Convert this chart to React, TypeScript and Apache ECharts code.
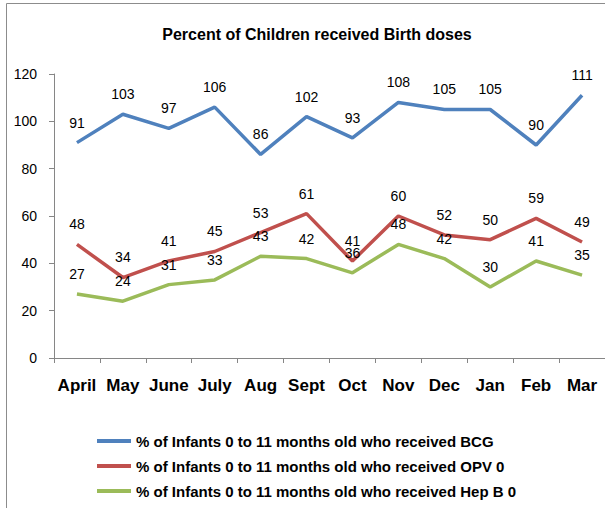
import React, { useEffect, useRef } from "react";
import * as echarts from "echarts";

const categories = ["April", "May", "June", "July", "Aug", "Sept", "Oct", "Nov", "Dec", "Jan", "Feb", "Mar"];
const bcg = [91, 103, 97, 106, 86, 102, 93, 108, 105, 105, 90, 111];
const opv = [48, 34, 41, 45, 53, 61, 41, 60, 52, 50, 59, 49];
const hepb = [27, 24, 31, 33, 43, 42, 36, 48, 42, 30, 41, 35];
const seriesNames = [
  "% of Infants 0 to 11 months old who received BCG",
  "% of Infants 0 to 11 months old who received OPV 0",
  "% of Infants 0 to 11 months old who received Hep B 0",
];
const colors = ["#4F81BD", "#C0504D", "#9BBB59"];
const titleText = "Percent of Children received Birth doses";

const FONT = "'Liberation Sans', Arial, sans-serif";

export default function App() {
  const ref = useRef<HTMLDivElement>(null);
  useEffect(() => {
    if (!ref.current) return;
    const chart = echarts.init(ref.current, undefined, { renderer: "svg" });
    const mk = (name: string, data: number[], color: string) => ({
      name,
      type: "line",
      data,
      color,
      symbol: "circle",
      symbolSize: 0.1,
      showSymbol: true,
      lineStyle: { width: 3.5, color },
      itemStyle: { color },
      label: {
        show: true,
        position: "top",
        distance: 13,
        color: "#000",
        fontSize: 14,
        fontFamily: FONT,
      },
    });
    chart.setOption({
      animation: false,
      title: {
        text: titleText,
        left: 312,
        top: 21,
        textAlign: "center",
        textStyle: { fontFamily: FONT, fontWeight: "bold", fontSize: 16, color: "#000" },
      },
      graphic: [
        {
          type: "rect",
          shape: { x: 6.5, y: 3.5, width: 620, height: 530 },
          style: { fill: "none", stroke: "#8c8c8c", lineWidth: 1 },
          silent: true,
        },
      ],
      legend: {
        orient: "vertical",
        left: 97,
        top: 432,
        padding: 0,
        icon: "rect",
        itemWidth: 34,
        itemHeight: 4,
        itemGap: 7,
        textStyle: { fontFamily: FONT, fontWeight: "bold", fontSize: 15, color: "#000", lineHeight: 18 },
        data: seriesNames,
      },
      grid: { left: 54, right: -3, top: 74, bottom: 150, containLabel: false },
      xAxis: {
        type: "category",
        data: categories,
        boundaryGap: true,
        axisLine: { show: true, lineStyle: { color: "#868686", width: 1 } },
        axisTick: { show: true, alignWithLabel: false, length: 5, lineStyle: { color: "#868686" } },
        axisLabel: { fontFamily: FONT, fontWeight: "bold", fontSize: 17, color: "#000", margin: 19, interval: 0 },
        splitLine: { show: false },
      },
      yAxis: {
        type: "value",
        min: 0,
        max: 120,
        interval: 20,
        axisLine: { show: true, lineStyle: { color: "#868686", width: 1 } },
        axisTick: { show: true, length: 5, lineStyle: { color: "#868686" } },
        axisLabel: { fontFamily: FONT, fontSize: 14, color: "#000", margin: 17 },
        splitLine: { show: false },
      },
      series: [mk(seriesNames[0], bcg, colors[0]), mk(seriesNames[1], opv, colors[1]), mk(seriesNames[2], hepb, colors[2])],
    });
    return () => chart.dispose();
  }, []);
  return (
    <div
      ref={ref}
      style={{ position: "absolute", left: 0, top: 0, width: 605, height: 508, background: "#fff" }}
    />
  );
}
